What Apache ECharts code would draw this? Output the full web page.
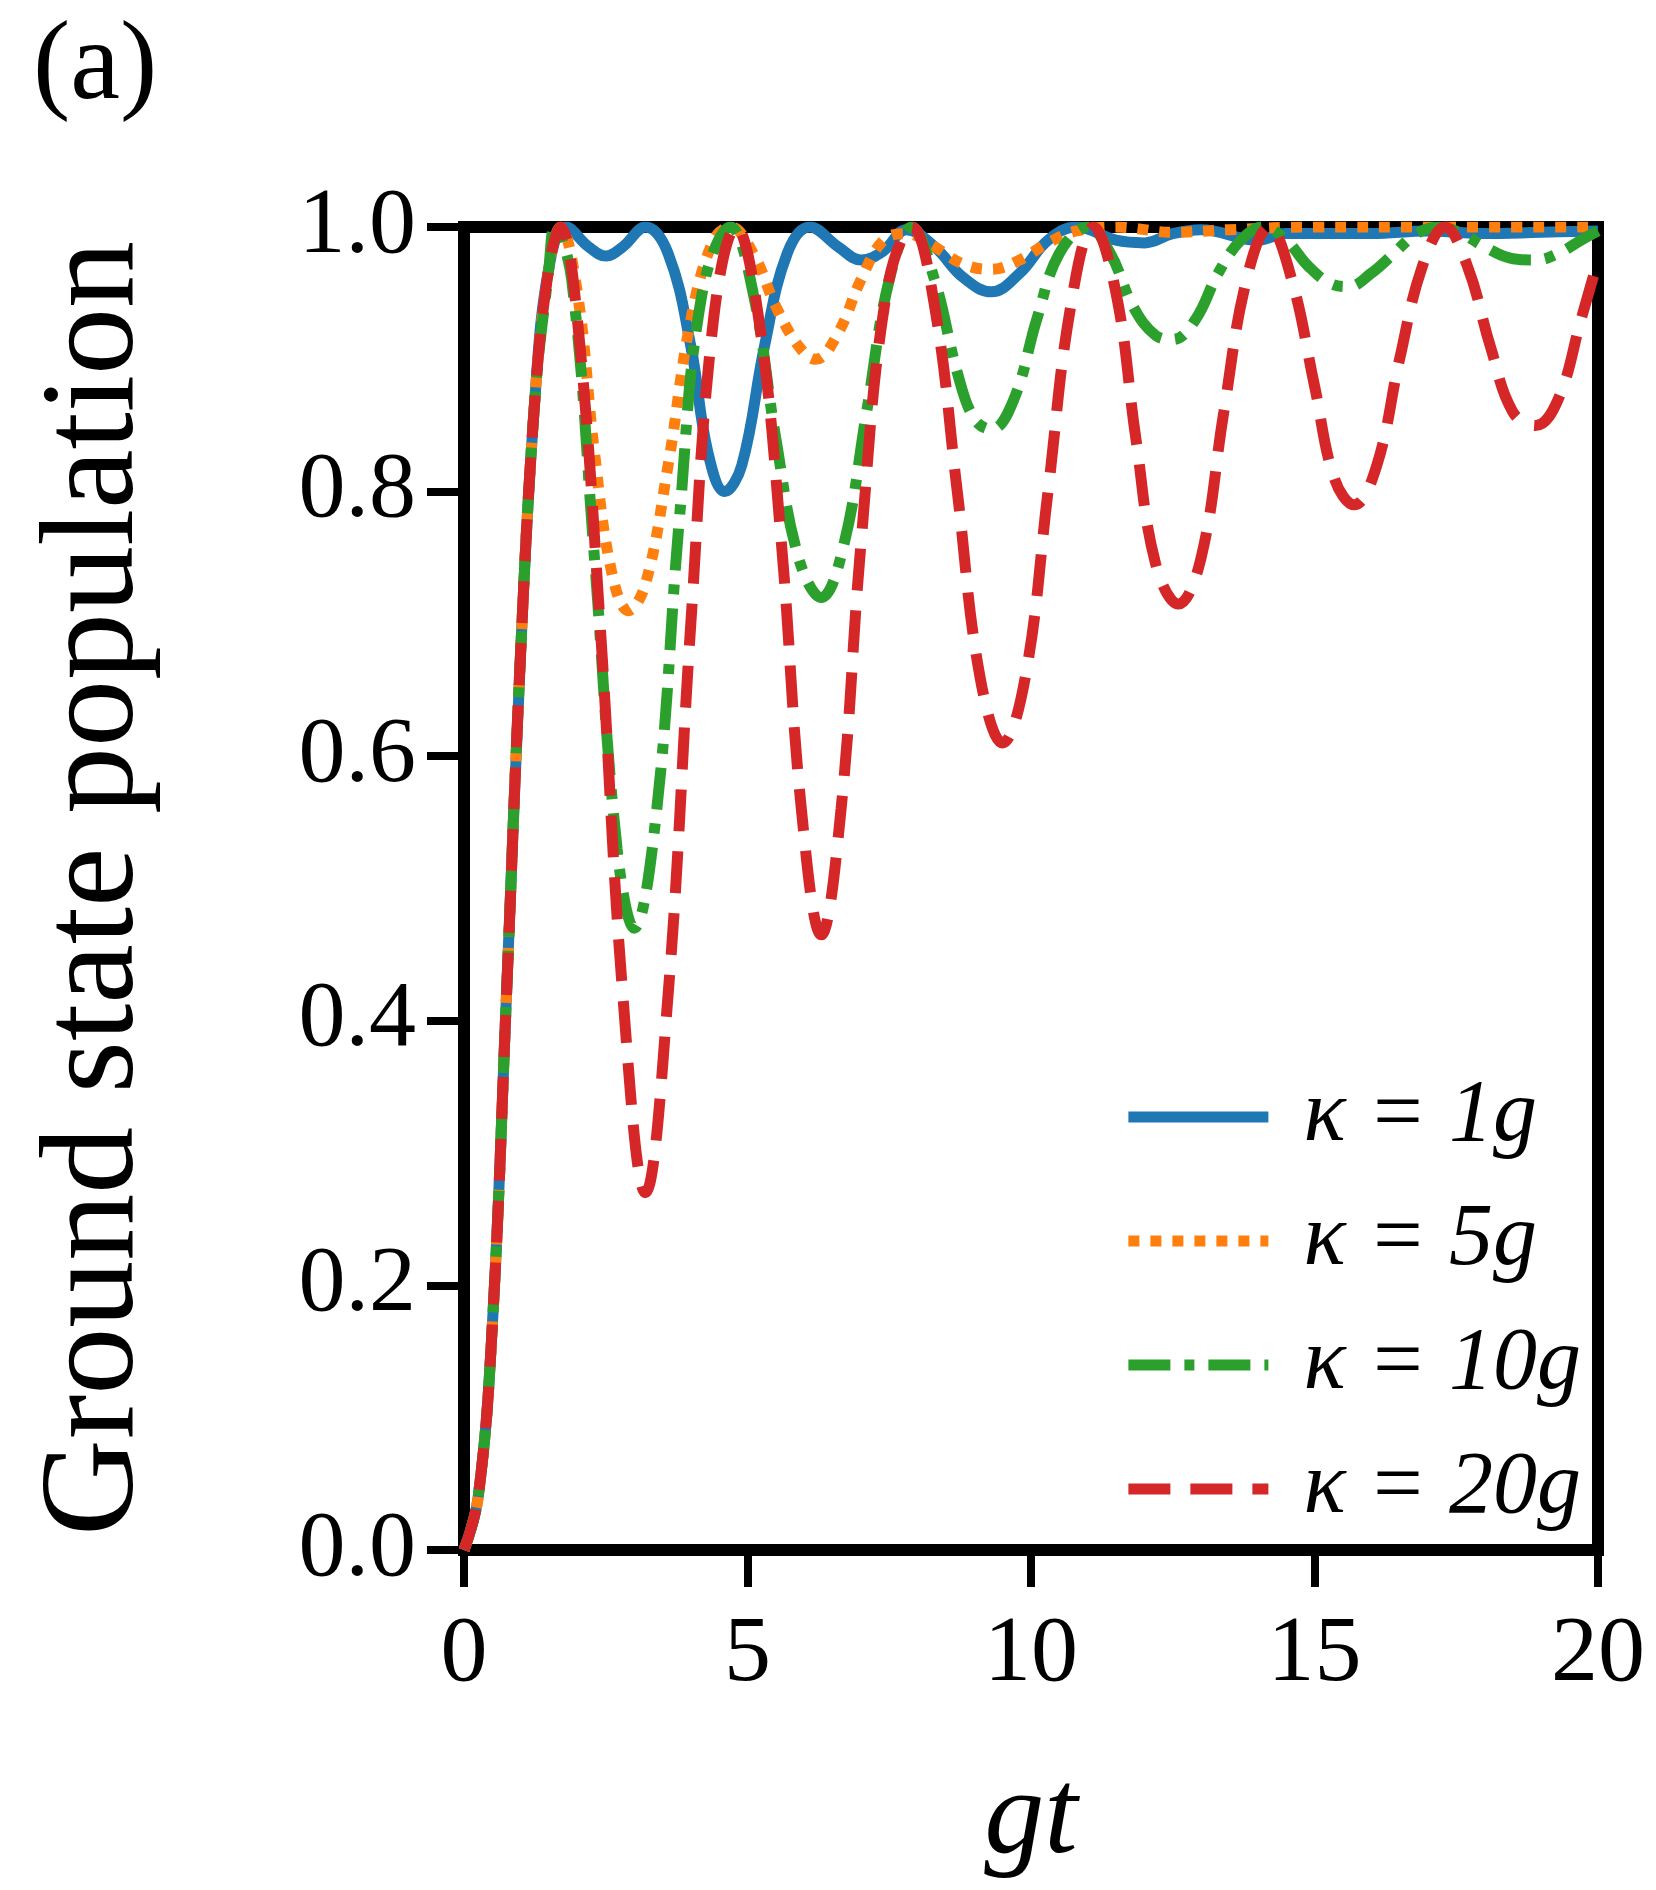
<!DOCTYPE html>
<html><head><meta charset="utf-8">
<script src="https://cdn.jsdelivr.net/npm/echarts@6/dist/echarts.min.js"></script>
<style>html,body{margin:0;padding:0;background:#fff}#c{width:1656px;height:1890px}</style>
</head><body><div id="c"></div>
<script>
const seriesNames = ['κ = 1g', 'κ = 5g', 'κ = 10g', 'κ = 20g'];
const xTicks = [0, 5, 10, 15, 20];
const yTicks = [0.0, 0.2, 0.4, 0.6, 0.8, 1.0];
const rise = [[0,0],[0.25,0.04],[0.5,0.17],[0.75,0.42],[1,0.68],[1.25,0.87],[1.5,0.97]];
const k1 = rise.concat([[1.8,1.0],[2.2,0.985],[2.5,0.978],[2.8,0.985],[3.2,1.0],[3.6,0.98],[4.0,0.91],[4.3,0.83],[4.6,0.8],[4.9,0.82],[5.3,0.91],[5.7,0.98],[6.1,1.0],[6.6,0.985],[7.0,0.975],[7.4,0.982],[7.8,0.998],[8.3,0.985],[8.8,0.962],[9.3,0.951],[9.8,0.965],[10.3,0.99],[10.8,1.0],[11.5,0.99],[12,0.988],[12.5,0.995],[13,0.998],[14,0.99],[14.5,0.995],[16,0.995],[17,0.997],[18,0.995],[19,0.996],[20,0.997]]);
const k5 = rise.concat([[1.7,1.0],[2.0,0.95],[2.3,0.83],[2.6,0.74],[2.9,0.71],[3.2,0.73],[3.6,0.82],[4.0,0.93],[4.4,0.99],[4.7,1.0],[5.1,0.98],[5.5,0.94],[5.9,0.91],[6.2,0.9],[6.6,0.92],[7.0,0.96],[7.4,0.99],[7.8,0.995],[8.3,0.985],[8.8,0.972],[9.3,0.968],[9.8,0.975],[10.3,0.988],[10.8,0.997],[11.5,1.0],[12.5,0.996],[13.5,0.998],[15,1.0],[17,1.0],[20,1.0]]);
const k10 = rise.concat([[1.6,1.0],[1.9,0.96],[2.3,0.75],[2.7,0.53],[3.0,0.47],[3.4,0.56],[3.8,0.78],[4.2,0.95],[4.7,1.0],[5.1,0.95],[5.5,0.84],[5.9,0.75],[6.3,0.72],[6.7,0.76],[7.1,0.86],[7.5,0.96],[7.9,1.0],[8.3,0.96],[8.7,0.89],[9.0,0.855],[9.3,0.847],[9.7,0.87],[10.1,0.93],[10.5,0.98],[11.0,1.0],[11.4,0.98],[11.8,0.94],[12.2,0.918],[12.5,0.915],[12.9,0.93],[13.3,0.965],[13.7,0.99],[14.1,1.0],[14.5,0.99],[14.9,0.97],[15.3,0.957],[15.6,0.955],[16.0,0.965],[16.4,0.98],[16.8,0.995],[17.2,1.0],[17.6,0.995],[18.0,0.985],[18.5,0.976],[18.9,0.975],[19.3,0.98],[19.7,0.99],[20,0.997]]);
const k20 = rise.concat([[1.7,1.0],[2.0,0.93],[2.4,0.7],[2.8,0.42],[3.2,0.27],[3.6,0.42],[4.0,0.7],[4.4,0.93],[4.8,1.0],[5.2,0.93],[5.6,0.76],[5.95,0.56],[6.3,0.465],[6.65,0.56],[7.0,0.76],[7.45,0.95],[7.9,1.0],[8.3,0.94],[8.7,0.8],[9.1,0.66],[9.5,0.61],[9.9,0.66],[10.3,0.8],[10.7,0.94],[11.1,1.0],[11.5,0.95],[11.85,0.84],[12.2,0.745],[12.6,0.715],[13.0,0.75],[13.4,0.86],[13.8,0.96],[14.2,1.0],[14.6,0.96],[15.0,0.88],[15.35,0.81],[15.7,0.79],[16.1,0.82],[16.5,0.9],[16.9,0.97],[17.3,1.0],[17.7,0.97],[18.1,0.91],[18.5,0.86],[18.9,0.85],[19.3,0.87],[19.7,0.93],[20,0.975]]);
const values = [k1, k5, k10, k20];
const colors = ['#1f77b4', '#ff7f0e', '#2ca02c', '#d62728'];
const dashes = ['solid', [11, 11], [42, 14, 10, 14], [42, 20]];
const FONT = 'Liberation Serif';
const chart = echarts.init(document.getElementById('c'));
chart.setOption({
  animation: false,
  title: { text: '(a)', left: 28, top: 8, textStyle: { fontFamily: FONT, fontSize: 112, fontWeight: 'normal', color: '#000' } },
  grid: { left: 464, right: 58, top: 227, bottom: 340, show: true, borderColor: '#000', borderWidth: 12, backgroundColor: 'transparent' },
  legend: {
    orient: 'vertical', right: 70, top: 1068, itemWidth: 140, itemHeight: 44, itemGap: 36,
    data: seriesNames,
    itemStyle: { opacity: 0 },
    lineStyle: { width: 11 },
    textStyle: { fontFamily: FONT, fontStyle: 'italic', fontSize: 88, color: '#000', padding: [0, 0, 0, 30] }
  },
  xAxis: {
    type: 'value', min: 0, max: 20, interval: 5,
    name: 'gt', nameLocation: 'middle', nameGap: 210,
    nameTextStyle: { fontFamily: FONT, fontStyle: 'italic', fontSize: 120, color: '#000' },
    axisLine: { show: true, lineStyle: { color: '#000', width: 12 } },
    axisTick: { show: true, length: 37, lineStyle: { color: '#000', width: 8 } },
    axisLabel: { fontFamily: FONT, fontSize: 94, color: '#000', margin: 58, formatter: v => xTicks.includes(v) ? String(v) : '' },
    splitLine: { show: false }
  },
  yAxis: {
    type: 'value', min: 0, max: 1, interval: 0.2,
    name: 'Ground state population', nameLocation: 'middle', nameGap: 300,
    nameTextStyle: { fontFamily: FONT, fontSize: 134, color: '#000' },
    axisLine: { show: true, lineStyle: { color: '#000', width: 12 } },
    axisTick: { show: true, length: 37, lineStyle: { color: '#000', width: 8 } },
    axisLabel: { fontFamily: FONT, fontSize: 94, color: '#000', margin: 48, formatter: v => yTicks.find(t => Math.abs(t - v) < 1e-6).toFixed(1) },
    splitLine: { show: false }
  },
  series: seriesNames.map((n, i) => ({
    name: n, type: 'line', data: values[i], smooth: 0.4, showSymbol: false, symbol: 'none',
    clip: true,
    lineStyle: { color: colors[i], width: 11, type: dashes[i], cap: 'butt' },
    itemStyle: { color: colors[i] }
  }))
});
</script></body></html>
